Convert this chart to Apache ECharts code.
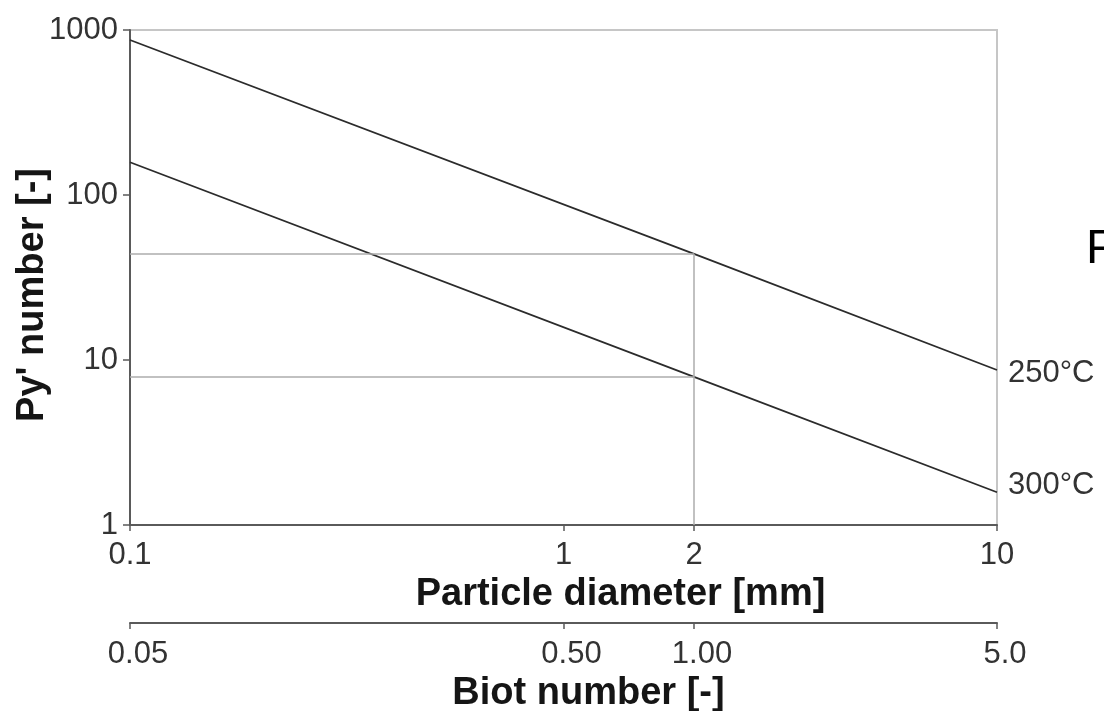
<!DOCTYPE html>
<html>
<head>
<meta charset="utf-8">
<script src="https://cdn.jsdelivr.net/npm/echarts@6/dist/echarts.min.js"></script>
<style>
  html, body { margin: 0; padding: 0; background: #fff; }
  #chart { width: 1104px; height: 711px; }
</style>
</head>
<body>
<div id="chart"></div>
<script>
// particle diameter [mm] at which the lines are read
var diameters = [0.1, 2, 10];
// Py' number for each temperature
var py250 = [870, 44, 8.7];
var py300 = [158, 7.9, 1.58];
var seriesNames = ['250°C', '300°C'];

// tick positions
var diameterTicks = [0.1, 1, 2, 10];
var pyTicks = [1, 10, 100, 1000];
var biotTicks = [0.05, 0.5, 1, 5];
var biotLabels = ['0.05', '0.50', '1.00', '5.0'];

// reading guides at d = 2 mm
var guideX = 2;
var guideY = [44, 7.9];

var font = '"Liberation Sans", Arial, Helvetica, sans-serif';

function pairs(xs, ys) {
  return xs.map(function (x, i) { return [x, ys[i]]; });
}

function guideLines(y) {
  return [
    [{ coord: [diameters[0], y] }, { coord: [guideX, y] }]
  ];
}

var chart = echarts.init(document.getElementById('chart'));

var option = {
  animation: false,
  backgroundColor: '#fff',
  textStyle: { fontFamily: font },
  grid: {
    left: 130,
    right: 107,
    top: 30,
    bottom: 186,
    containLabel: false,
    outerBoundsMode: 'none',
    show: true,
    borderColor: '#c6c6c6',
    borderWidth: 2
  },
  xAxis: [{
    type: 'log',
    logBase: 10,
    min: 0.1,
    max: 10,
    position: 'bottom',
    name: 'Particle diameter [mm]',
    nameLocation: 'middle',
    nameGap: 49,
    nameTextStyle: {
      fontSize: 38, fontWeight: 'bold', color: '#151515',
      fontFamily: font, padding: [0, 0, 0, 114]
    },
    axisLine: { lineStyle: { color: '#5a5a5a', width: 2 } },
    axisTick: { length: 6, customValues: diameterTicks, lineStyle: { color: '#5a5a5a', width: 1.5 } },
    axisLabel: {
      customValues: diameterTicks,
      fontSize: 31, color: '#333', margin: 15,
      formatter: function (v) { return String(+v.toPrecision(3)); }
    },
    splitLine: { show: false },
    minorTick: { show: false }
  }, {
    type: 'log',
    logBase: 10,
    min: 0.05,
    max: 5,
    position: 'bottom',
    offset: 98,
    name: 'Biot number [-]',
    nameLocation: 'middle',
    nameGap: 52,
    nameTextStyle: {
      fontSize: 38, fontWeight: 'bold', color: '#151515',
      fontFamily: font, padding: [0, 0, 0, 50]
    },
    axisLine: { lineStyle: { color: '#5a5a5a', width: 2 } },
    axisTick: { length: 6, customValues: biotTicks, lineStyle: { color: '#5a5a5a', width: 1.5 } },
    axisLabel: {
      customValues: biotTicks,
      fontSize: 31, color: '#333', margin: 16,
      padding: [0, 0, 0, 16],
      formatter: function (v) {
        var best = 0;
        biotTicks.forEach(function (t, i) {
          if (Math.abs(Math.log(t) - Math.log(v)) < Math.abs(Math.log(biotTicks[best]) - Math.log(v))) best = i;
        });
        return biotLabels[best];
      }
    },
    splitLine: { show: false },
    minorTick: { show: false }
  }],
  yAxis: {
    type: 'log',
    logBase: 10,
    min: 1,
    max: 1000,
    name: "Py' number [-]",
    nameLocation: 'middle',
    nameGap: 78,
    nameRotate: 90,
    nameMoveOverlap: false,
    nameTextStyle: {
      fontSize: 38, fontWeight: 'bold', color: '#151515',
      fontFamily: font, padding: [0, 35, 0, 0]
    },
    axisLine: { show: true, lineStyle: { color: '#5a5a5a', width: 2 } },
    axisTick: { length: 7, customValues: pyTicks, lineStyle: { color: '#5a5a5a', width: 1.5 } },
    axisLabel: {
      customValues: pyTicks,
      fontSize: 31, color: '#333', margin: 12,
      formatter: function (v) { return String(Math.round(v)); }
    },
    splitLine: { show: false },
    minorTick: { show: false }
  },
  series: [{
    name: seriesNames[0],
    type: 'line',
    xAxisIndex: 0,
    data: pairs(diameters, py250),
    symbol: 'none',
    lineStyle: { color: '#2b2b2b', width: 1.8 },
    endLabel: {
      show: true, formatter: '{a}', distance: 11,
      fontSize: 31, color: '#333', offset: [0, 3]
    },
    markLine: {
      silent: true,
      symbol: 'none',
      label: { show: false },
      lineStyle: { color: '#acacac', width: 1.5, type: 'solid' },
      data: guideLines(guideY[0]).concat([
        [{ coord: [guideX, guideY[0]] }, { coord: [guideX, pyTicks[0]] }]
      ])
    }
  }, {
    name: seriesNames[1],
    type: 'line',
    xAxisIndex: 0,
    data: pairs(diameters, py300),
    symbol: 'none',
    lineStyle: { color: '#2b2b2b', width: 1.8 },
    endLabel: {
      show: true, formatter: '{a}', distance: 11,
      fontSize: 31, color: '#333', offset: [0, -7]
    },
    markLine: {
      silent: true,
      symbol: 'none',
      label: { show: false },
      lineStyle: { color: '#acacac', width: 1.5, type: 'solid' },
      data: guideLines(guideY[1])
    }
  }],
  graphic: [{
    type: 'text',
    left: 1086,
    top: 226,
    style: { text: 'P', fontSize: 48, fill: '#000', fontFamily: font }
  }]
};

chart.setOption(option);
</script>
</body>
</html>
